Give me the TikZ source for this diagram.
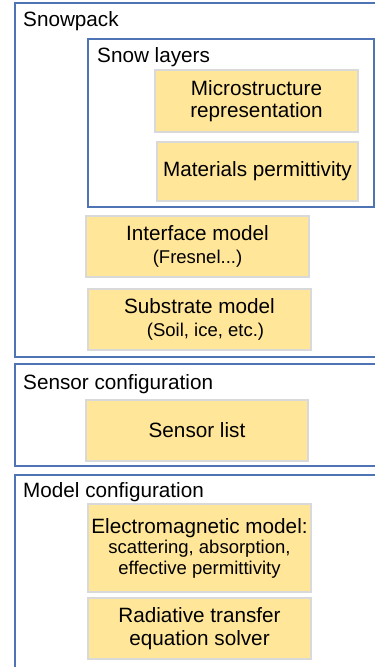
\documentclass[tikz,border=0pt]{standalone}
\usepackage{fontspec}
\setmainfont{Liberation Sans}
\definecolor{frame}{HTML}{4F74B5}
\definecolor{yel}{HTML}{FFE699}
\definecolor{ybord}{HTML}{D9D9D9}
\begin{document}
\begin{tikzpicture}[x=1pt,y=-1pt,
  frm/.style={draw=frame,line width=1.3pt,rectangle,inner sep=0pt,outer sep=0pt,anchor=north west},
  ybox/.style={draw=ybord,line width=1.3pt,fill=yel,rectangle,inner sep=0pt,outer sep=0pt,align=center,font=\fontsize{20.7}{22.5}\selectfont},
  ttl/.style={anchor=base west,inner sep=0pt,font=\fontsize{20.7}{23}\selectfont},
  subt/.style={}]
\useasboundingbox (0,0) rectangle (375,667);
\clip (0,0) rectangle (375,667);
\fill[white] (0,0) rectangle (375,667);

% frames
\node[frm,minimum width=385pt,minimum height=354pt] (snowpack) at (15,3) {};
\node[frm,minimum width=286pt,minimum height=168pt] (layers) at (88,39) {};
\node[frm,minimum width=385pt,minimum height=102pt] (sensorcfg) at (15,364) {};
\node[frm,minimum width=385pt,minimum height=215pt] (modelcfg) at (15,475) {};

% titles
\node[ttl] (tsnow) at (23,26) {Snowpack};
\node[ttl] (tlayers) at (97,62) {Snow layers};
\node[ttl] (tsensor) at (23,389) {Sensor configuration};
\node[ttl] (tmodel) at (23,497) {Model configuration};

% yellow boxes
\node[ybox,minimum width=203pt,minimum height=62pt] (micro) at (256.5,101) {Microstructure\\representation};
\node[ybox,minimum width=201pt,minimum height=59pt] (mat) at (257.5,171.5) {Materials permittivity};
\node[ybox,minimum width=223pt,minimum height=61pt] (iface) at (197.5,246.5) {Interface model\\{\fontsize{18.5}{22}\selectfont (Fresnel...)}};
\node[ybox,minimum width=223pt,minimum height=61pt] (subst) at (199.5,319.5) {Substrate model\\{\fontsize{18.5}{22}\selectfont\hspace{12pt}(Soil, ice, etc.)}};
\node[ybox,minimum width=222pt,minimum height=61pt] (sensor) at (197,430.5) {Sensor list};
\node[ybox,minimum width=223pt,minimum height=88pt,font=\fontsize{20.7}{20.5}\selectfont] (em) at (199.5,548) {Electromagnetic model:\\{\fontsize{18.5}{20.5}\selectfont scattering, absorption,}\\{\fontsize{18.5}{20.5}\selectfont effective permittivity}};
\node[ybox,minimum width=223pt,minimum height=61pt] (rt) at (199.5,628.5) {Radiative transfer\\equation solver};
\end{tikzpicture}
\end{document}
